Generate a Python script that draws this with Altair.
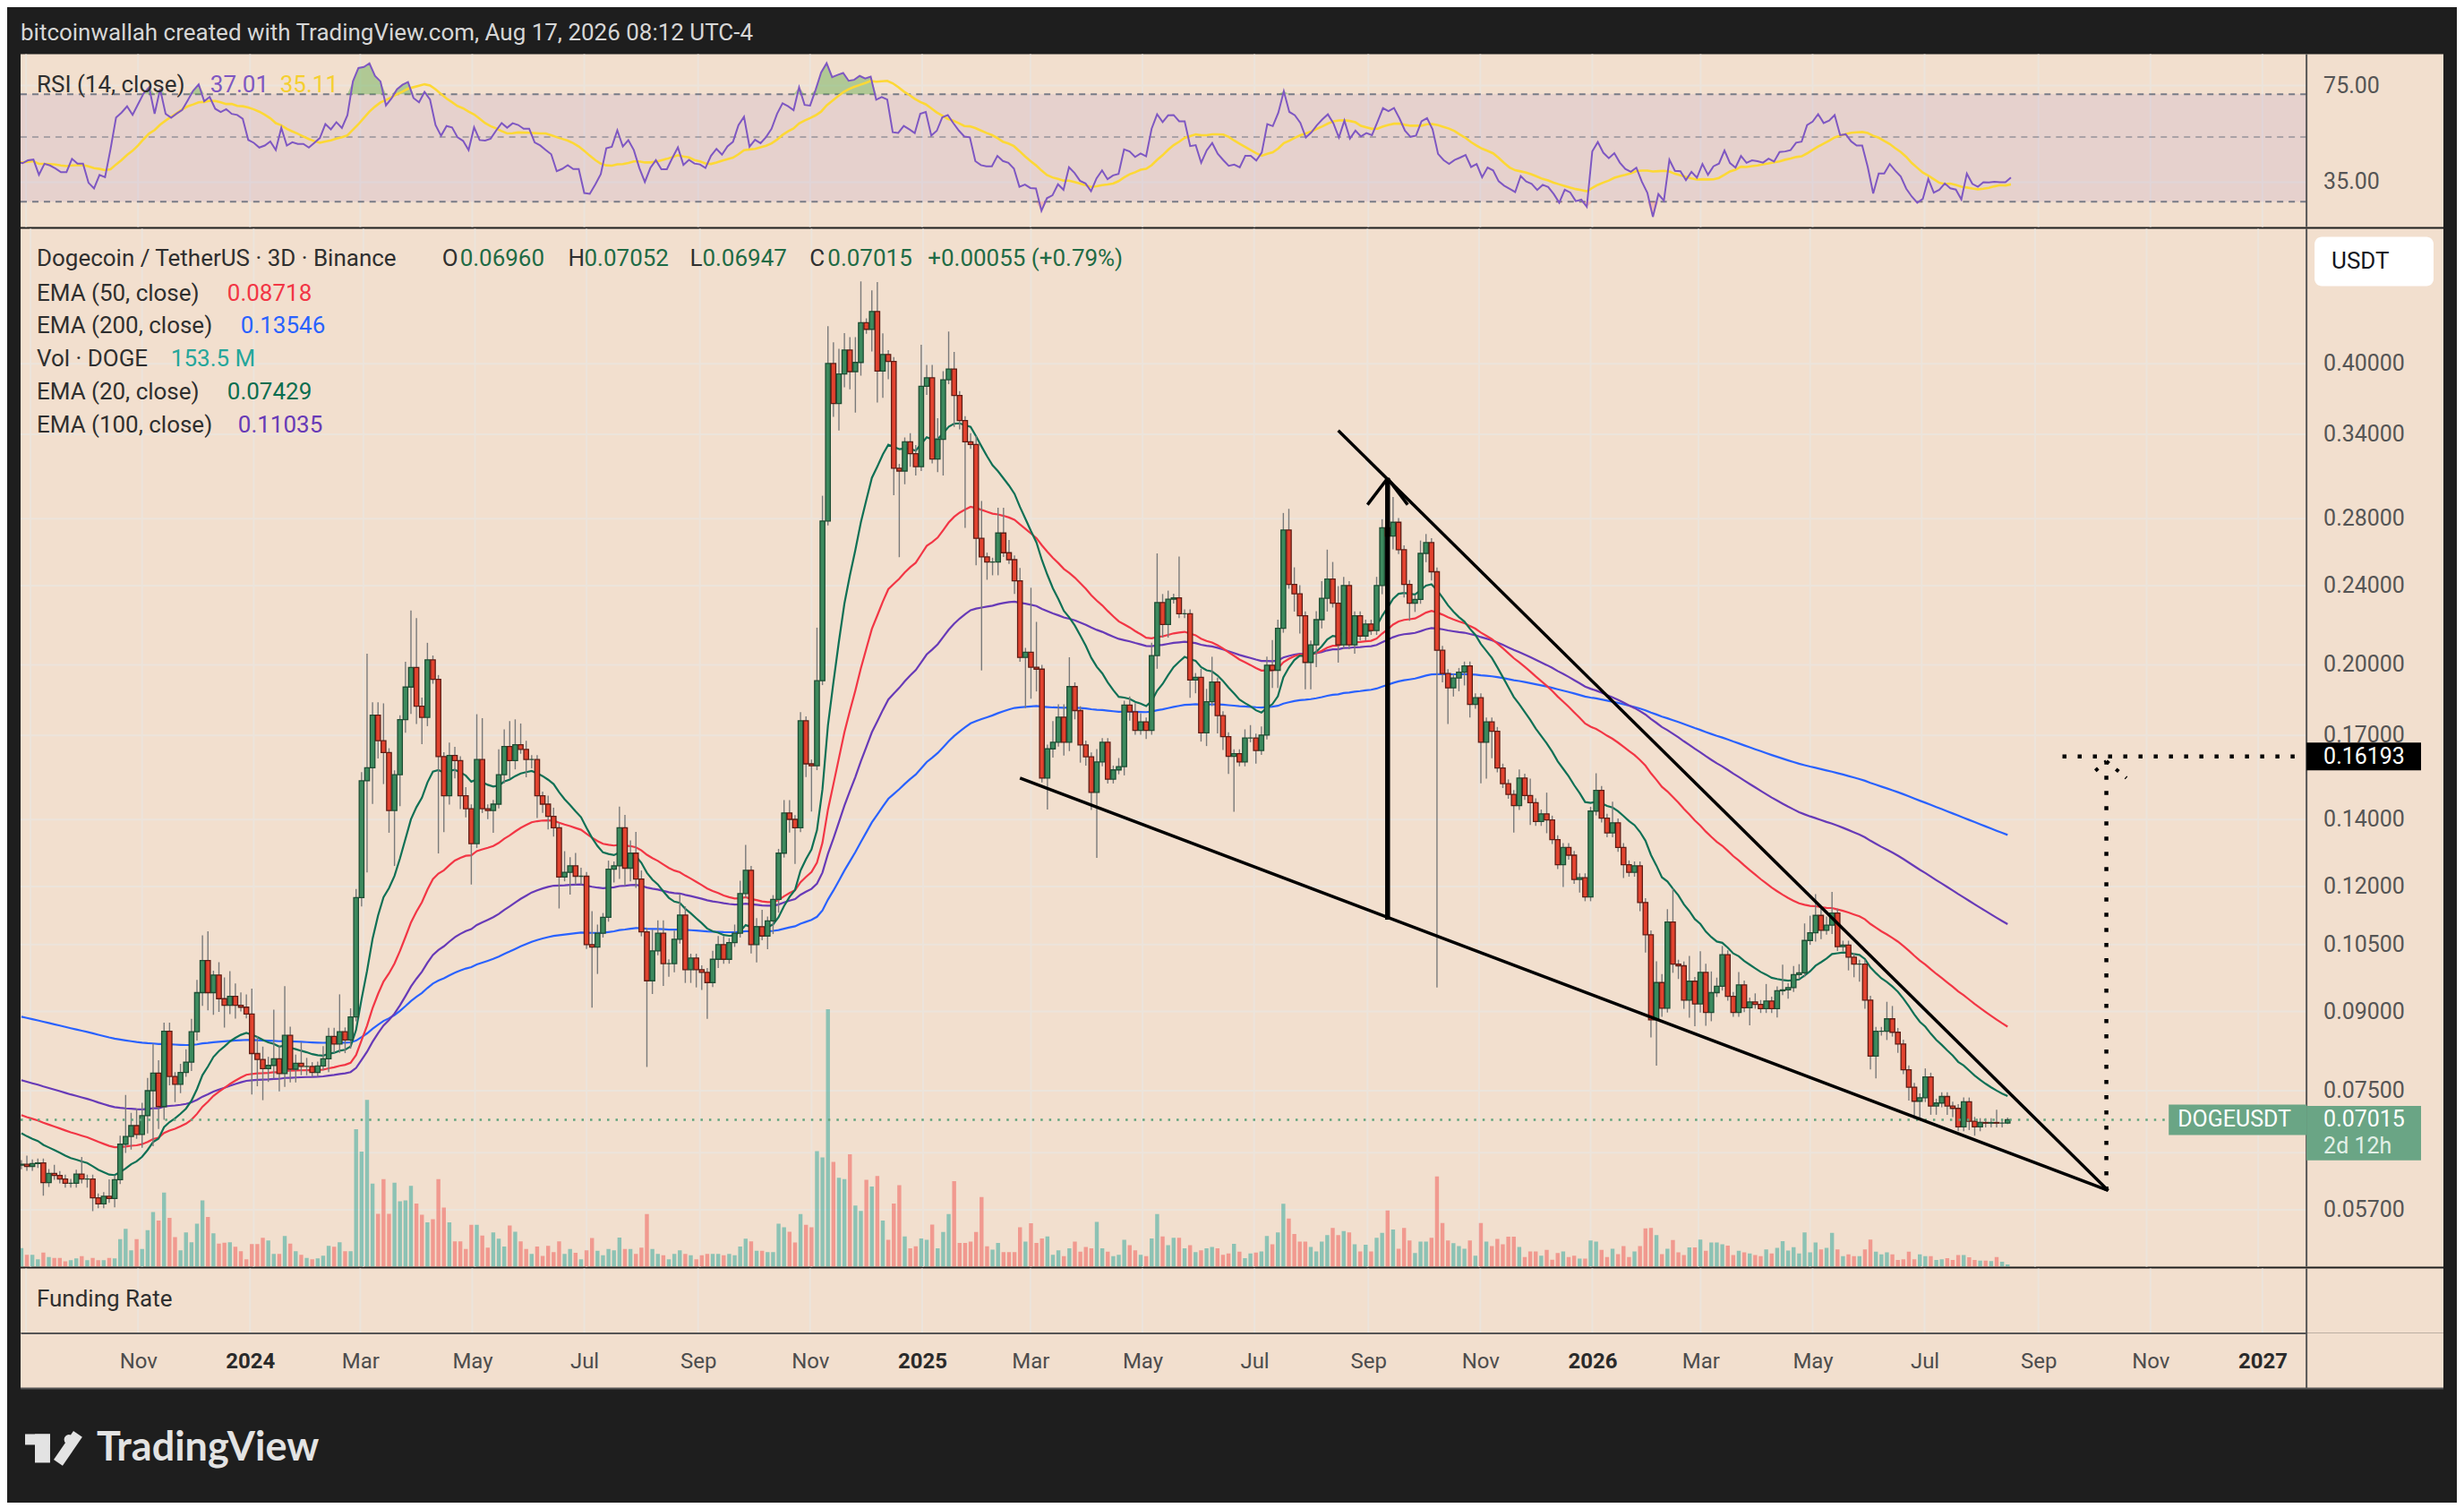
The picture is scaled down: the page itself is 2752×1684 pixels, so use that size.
import altair as alt
import pandas as pd
import numpy as np

# ---------------------------------------------------------------- data
first_open = 0.0632

closes = [
    0.0633, 0.0630, 0.0634, 0.0635, 0.0607, 0.0620, 0.0617, 0.0612, 0.0606, 0.0606,
    0.0619, 0.0612, 0.0612, 0.0586, 0.0578, 0.0588, 0.0585, 0.0611, 0.0663, 0.0675,
    0.0692, 0.0678, 0.0708, 0.0750, 0.0781, 0.0723, 0.0860, 0.0775, 0.0761, 0.0782,
    0.0801, 0.0859, 0.0940, 0.1012, 0.0940, 0.0979, 0.0927, 0.0913, 0.0932, 0.0913,
    0.0909, 0.0895, 0.0817, 0.0806, 0.0789, 0.0795, 0.0807, 0.0780, 0.0852, 0.0788,
    0.0799, 0.0793, 0.0793, 0.0782, 0.0794, 0.0807, 0.0850, 0.0835, 0.0859, 0.0843,
    0.0889, 0.1170, 0.1531, 0.1578, 0.1781, 0.1679, 0.1634, 0.1430, 0.1553, 0.1763,
    0.1900, 0.1988, 0.1818, 0.1772, 0.2023, 0.1934, 0.1619,
    0.1479, 0.1623, 0.1604, 0.1479, 0.1436, 0.1325, 0.1608, 0.1436, 0.1430, 0.1451,
    0.1553, 0.1657, 0.1604, 0.1664, 0.1646, 0.1608, 0.1608, 0.1479, 0.1451, 0.1411,
    0.1374, 0.1227, 0.1240, 0.1259, 0.1229, 0.1229, 0.1050, 0.1044, 0.1078, 0.1118,
    0.1249, 0.1259, 0.1374, 0.1252, 0.1296, 0.1221, 0.1081, 0.0966, 0.1035, 0.1078,
    0.1005, 0.1005, 0.1063, 0.1124, 0.0991, 0.1018, 0.0991, 0.0985, 0.0962, 0.1015,
    0.1050, 0.1015, 0.1055, 0.1078, 0.1181, 0.1246, 0.1050, 0.1094, 0.1071, 0.1109,
    0.1165, 0.1296, 0.1422, 0.1401, 0.1374, 0.1758, 0.1592, 0.1585, 0.1928, 0.2785,
    0.4003, 0.3650, 0.3907, 0.4129, 0.3929,
    0.4013, 0.4397, 0.4331, 0.4513, 0.3934, 0.4087, 0.4022, 0.3145, 0.3125, 0.3343,
    0.3253, 0.3156, 0.3799, 0.3873, 0.3213, 0.3362, 0.3856, 0.3953, 0.3719, 0.3510,
    0.3343, 0.3322, 0.2676, 0.2564, 0.2534, 0.2534, 0.2709, 0.2589, 0.2548, 0.2427,
    0.2034, 0.2059, 0.1989, 0.1980, 0.1541, 0.1648, 0.1673, 0.1773, 0.1673, 0.1902,
    0.1800, 0.1663, 0.1618, 0.1491, 0.1599, 0.1673, 0.1537, 0.1570, 0.1582, 0.1823,
    0.1795, 0.1720, 0.1754, 0.1720, 0.2043, 0.2308, 0.2195, 0.2326, 0.2333, 0.2250,
    0.2250, 0.1931, 0.1943, 0.1710, 0.1837, 0.1922, 0.1779, 0.1695, 0.1620, 0.1630,
    0.1599, 0.1690, 0.1690,
    0.1642, 0.1701, 0.1998, 0.1975, 0.2175, 0.2728, 0.2407, 0.2355, 0.2239, 0.2011,
    0.2094, 0.2219, 0.2331, 0.2437, 0.2305, 0.2094, 0.2401, 0.2094, 0.2239, 0.2137,
    0.2197, 0.2164, 0.2401, 0.2742, 0.2690, 0.2777, 0.2607, 0.2407, 0.2305, 0.2325,
    0.2585, 0.2650, 0.2478, 0.2068, 0.1960, 0.1897, 0.1940, 0.1966, 0.1995, 0.1826,
    0.1854, 0.1673, 0.1754, 0.1716, 0.1577, 0.1521, 0.1484, 0.1446, 0.1541, 0.1480,
    0.1456, 0.1394, 0.1419, 0.1399, 0.1337, 0.1262, 0.1313, 0.1290, 0.1220, 0.1225,
    0.1172, 0.1428, 0.1498, 0.1405, 0.1358, 0.1390, 0.1313, 0.1262, 0.1240, 0.1259,
    0.1157, 0.1074, 0.0883, 0.0962, 0.0907,
    0.1106, 0.1004, 0.1000, 0.0924, 0.0965, 0.0916, 0.0985, 0.0898, 0.0940, 0.0954,
    0.1026, 0.0932, 0.0898, 0.0957, 0.0908, 0.0920, 0.0915, 0.0906, 0.0922, 0.0906,
    0.0944, 0.0946, 0.0951, 0.0980, 0.0984, 0.1060, 0.1079, 0.1123, 0.1085, 0.1098,
    0.1129, 0.1045, 0.1049, 0.1020, 0.1004, 0.1004, 0.0924, 0.0812, 0.0860, 0.0860,
    0.0885, 0.0858, 0.0835, 0.0787, 0.0756, 0.0732, 0.0738, 0.0774, 0.0724, 0.0729,
    0.0740, 0.0724, 0.0720, 0.0690, 0.0731, 0.0699, 0.0690, 0.0697, 0.0696, 0.0697,
    0.0696, 0.0696, 0.07015,
]

wick_up_pct = [
    1, 2, 1, 1, 1, 1, 2, 1, 1, 1, 1, 4, 1, 1, 1, 1, 4, 1, 2, 10,
    3, 4, 3, 3, 7, 3, 2, 2, 1, 2, 3, 3, 3, 6, 7, 1, 3, 5, 6, 3,
    3, 3, 6, 4, 3, 2, 12, 3, 12, 2, 2, 5, 2, 1, 1, 3, 2, 2, 9, 1,
    2, 2, 2, 30, 3, 3, 9, 1, 1, 1, 6, 14, 12, 2, 4, 1, 1,
    1, 3, 2, 1, 2, 1, 11, 10, 1, 1, 6, 4, 6, 6, 5, 2, 1, 1, 1, 2,
    2, 1, 5, 2, 3, 2, 1, 8, 2, 1, 2, 1, 5, 3, 3, 5, 2, 1, 5, 3,
    3, 1, 2, 5, 2, 1, 1, 1, 1, 2, 2, 2, 1, 2, 3, 6, 1, 2, 4, 1,
    1, 1, 3, 3, 1, 2, 1, 1, 13, 6, 9, 5, 6, 4, 3,
    6, 10, 1, 5, 7, 5, 1, 1, 1, 1, 2, 2, 10, 3, 3, 5, 2, 9, 4, 1,
    1, 2, 2, 9, 1, 1, 6, 6, 3, 1, 3, 1, 16, 11, 1, 1, 5, 3, 3, 7,
    1, 1, 1, 1, 3, 1, 1, 1, 2, 1, 2, 2, 2, 1, 3, 12, 2, 2, 1, 10,
    1, 1, 1, 2, 3, 6, 1, 1, 1, 1, 1, 2, 3,
    1, 2, 2, 6, 2, 4, 5, 4, 2, 1, 1, 2, 4, 7, 4, 4, 2, 1, 1, 1,
    1, 1, 2, 2, 2, 6, 1, 1, 1, 1, 3, 2, 1, 1, 1, 1, 1, 1, 1, 1,
    1, 1, 1, 1, 1, 1, 1, 1, 2, 1, 4, 1, 1, 5, 1, 1, 1, 1, 1, 1,
    1, 1, 4, 1, 1, 5, 1, 1, 1, 1, 1, 1, 1, 5, 2,
    3, 8, 1, 1, 6, 1, 5, 2, 5, 2, 2, 1, 1, 3, 1, 1, 2, 1, 4, 1,
    1, 6, 1, 2, 2, 4, 4, 5, 2, 2, 5, 1, 1, 1, 1, 1, 1, 1, 1, 1,
    4, 3, 1, 1, 1, 1, 1, 2, 1, 1, 1, 1, 1, 1, 1, 1, 1, 1, 1, 1,
    3, 1, 0.5,
]

wick_dn_pct = [
    1, 1, 1, 1, 3, 1, 1, 1, 1, 1, 1, 1, 2, 3, 1, 1, 1, 2, 1, 2,
    3, 1, 3, 4, 12, 5, 3, 2, 4, 2, 1, 2, 2, 3, 4, 5, 3, 5, 2, 3,
    1, 1, 9, 6, 7, 3, 3, 4, 3, 3, 3, 2, 2, 1, 1, 1, 3, 2, 2, 3,
    2, 1, 2, 19, 8, 4, 7, 5, 12, 7, 3, 6, 4, 6, 2, 1, 20,
    8, 2, 4, 3, 2, 9, 1, 1, 2, 5, 1, 2, 4, 2, 1, 4, 2, 5, 2, 3,
    2, 7, 1, 5, 2, 2, 1, 13, 6, 1, 1, 3, 3, 4, 3, 2, 1, 18, 3, 1,
    5, 3, 2, 1, 3, 3, 4, 4, 8, 1, 2, 1, 1, 1, 1, 1, 2, 4, 1, 3,
    3, 3, 1, 3, 8, 1, 3, 10, 1, 1, 1, 3, 6, 3, 4,
    9, 3, 1, 5, 7, 6, 4, 6, 18, 3, 3, 2, 1, 2, 1, 3, 8, 1, 7, 2,
    18, 1, 6, 23, 4, 3, 3, 1, 1, 3, 1, 11, 7, 5, 1, 7, 2, 1, 3, 2,
    2, 4, 2, 4, 14, 1, 1, 1, 1, 2, 2, 1, 1, 2, 1, 3, 3, 3, 1, 1,
    1, 4, 3, 2, 3, 1, 4, 3, 4, 12, 1, 1, 1,
    3, 1, 1, 4, 4, 1, 1, 4, 4, 6, 6, 5, 2, 3, 1, 4, 1, 1, 2, 1,
    1, 1, 1, 2, 2, 3, 1, 3, 4, 2, 1, 2, 2, 54, 2, 8, 2, 3, 3, 3,
    1, 9, 8, 6, 1, 1, 1, 6, 1, 1, 5, 1, 1, 3, 1, 1, 5, 1, 1, 3,
    1, 1, 1, 1, 1, 1, 1, 3, 1, 1, 2, 4, 4, 10, 2,
    1, 2, 3, 2, 4, 5, 2, 3, 2, 1, 1, 1, 1, 1, 1, 4, 1, 1, 1, 1,
    2, 1, 2, 1, 1, 1, 1, 2, 2, 1, 2, 1, 1, 3, 3, 4, 2, 3, 5, 1,
    2, 1, 2, 1, 3, 4, 4, 1, 2, 2, 1, 2, 2, 1, 1, 2, 2, 1, 1, 1,
    1, 1, 0.2,
]

volume_bn = [
    1.26, 0.81, 0.81, 0.51, 0.96, 0.66, 0.60, 0.60, 0.36, 0.45,
    0.57, 0.72, 0.45, 0.60, 0.45, 0.45, 0.60, 0.57, 1.86, 2.55,
    1.11, 1.86, 1.20, 2.46, 3.69, 3.12, 5.00, 3.30, 2.00, 1.11,
    2.31, 1.65, 2.90, 4.47, 3.36, 2.25, 1.56, 1.62, 1.65, 1.35,
    1.05, 0.51, 1.53, 1.53, 1.95, 1.77, 0.87, 0.87, 2.07, 1.56,
    1.05, 0.81, 0.60, 0.51, 0.57, 0.75, 1.41, 1.35, 1.65, 1.05,
    1.05, 9.27, 7.77, 11.25, 5.61, 3.57, 5.91, 3.57, 5.67, 4.41,
    4.47, 5.46, 4.26, 3.51, 3.00, 3.21, 5.91,
    3.99, 3.00, 1.71, 1.71, 1.20, 2.83, 2.83, 2.10, 1.29, 2.31,
    1.89, 1.37, 2.79, 2.36, 1.71, 1.20, 0.86, 1.37, 0.73, 1.41,
    0.99, 1.71, 0.86, 1.20, 0.94, 0.51, 1.11, 1.93, 1.07, 0.77,
    1.20, 1.11, 1.97, 1.20, 1.20, 0.86, 1.29, 3.56, 1.20, 0.86,
    0.77, 0.51, 0.86, 1.11, 0.86, 0.77, 0.51, 0.77, 0.86, 0.86,
    0.86, 0.77, 0.86, 0.77, 1.37, 1.89, 1.71, 1.07, 1.07, 0.99,
    0.99, 2.91, 2.66, 2.36, 1.63, 3.56, 2.83, 2.66, 7.80, 7.37,
    17.36, 7.07, 6.00, 5.91, 7.59,
    4.13, 3.77, 5.86, 5.41, 6.12, 3.11, 1.82, 4.26, 5.50, 2.04,
    1.24, 1.38, 1.91, 1.82, 2.84, 1.24, 2.35, 3.55, 5.77, 1.60,
    1.60, 1.69, 2.35, 4.70, 1.38, 1.15, 1.60, 0.98, 0.98, 0.98,
    2.66, 1.69, 2.93, 1.60, 1.91, 2.04, 0.80, 1.11, 0.71, 1.24,
    1.69, 1.02, 1.33, 1.24, 3.02, 1.24, 1.02, 0.71, 0.80, 1.82,
    1.46, 1.11, 0.80, 0.71, 1.91, 3.55, 2.04, 1.46, 1.95, 1.95,
    1.24, 1.46, 0.98, 1.11, 1.24, 1.33, 1.24, 0.80, 0.89, 1.55,
    1.02, 0.58, 0.89,
    0.96, 1.03, 2.07, 1.51, 2.32, 4.24, 3.25, 2.21, 1.70, 1.70,
    1.33, 1.03, 1.70, 2.14, 2.62, 2.14, 2.40, 2.32, 1.51, 1.03,
    1.48, 1.03, 1.96, 2.29, 3.80, 2.51, 1.22, 2.62, 1.77, 0.92,
    1.70, 1.70, 1.96, 6.09, 2.95, 1.77, 1.59, 1.40, 1.22, 1.77,
    0.74, 2.95, 1.70, 1.40, 1.88, 1.51, 2.03, 2.03, 1.33, 0.66,
    1.03, 1.03, 0.74, 1.14, 0.48, 0.92, 1.03, 0.66, 0.74, 0.55,
    0.55, 1.77, 1.70, 1.14, 0.66, 1.22, 0.85, 1.40, 0.66, 1.03,
    1.40, 2.58, 2.62, 2.14, 0.85,
    1.22, 1.80, 0.97, 0.79, 1.30, 1.30, 1.83, 1.07, 1.63, 1.63,
    1.52, 1.42, 0.79, 1.07, 0.97, 0.89, 0.79, 0.71, 1.17, 0.89,
    1.27, 1.73, 1.09, 1.32, 0.89, 2.31, 0.97, 1.63, 1.17, 1.27,
    2.29, 1.17, 0.71, 0.84, 0.71, 0.71, 1.17, 1.83, 1.02, 0.84,
    0.97, 0.84, 0.46, 0.51, 1.02, 0.51, 0.84, 0.71, 0.71, 0.46,
    0.51, 0.58, 0.46, 0.79, 0.79, 0.64, 0.46, 0.41, 0.41, 0.38,
    0.66, 0.33, 0.1535,
]

last_candle_date = "2026-08-17"
ema_seed = {20: 0.0685, 50: 0.0712, 100: 0.0771, 200: 0.0892}
rsi_seed_gain = 0.0009
rsi_seed_loss = 0.0013

price_ticks = [0.057, 0.065, 0.075, 0.09, 0.105, 0.12, 0.14, 0.17, 0.20, 0.24, 0.28, 0.34, 0.40]
price_labels = [0.057, 0.075, 0.09, 0.105, 0.12, 0.14, 0.17, 0.20, 0.24, 0.28, 0.34, 0.40]
rsi_ticks = [35, 75]
grid_months = [(2023, 9), (2023, 11), (2024, 1), (2024, 3), (2024, 5), (2024, 7), (2024, 9),
               (2024, 11), (2025, 1), (2025, 3), (2025, 5), (2025, 7), (2025, 9), (2025, 11),
               (2026, 1), (2026, 3), (2026, 5), (2026, 7), (2026, 9), (2026, 11), (2027, 1)]

wedge_upper = [("2025-08-16", 0.3431), ("2026-10-11", 0.0596)]
wedge_lower = [("2025-02-23", 0.1541), ("2026-10-11", 0.0596)]
pole = [("2025-09-12", 0.1112), ("2025-09-12", 0.3073)]
pole_head = [("2025-09-01", 0.2892), ("2025-09-12", 0.3073), ("2025-09-23", 0.2892)]
target_price = 0.16193
target_h = [("2026-09-16", 0.16193), ("2027-01-25", 0.16193)]
target_v = [("2026-10-10", 0.0596), ("2026-10-10", 0.1600)]
target_head = [("2026-10-04", 0.1567), ("2026-10-10", 0.1602), ("2026-10-21", 0.1541)]
last_price = 0.07015

# ---------------------------------------------------------------- derived table
n = min(len(closes), len(wick_up_pct), len(wick_dn_pct), len(volume_bn))
cl = np.array(closes[:n], dtype=float)
op = np.array([first_open] + closes[:n - 1], dtype=float)
hi = np.maximum(op, cl) * (1 + np.array(wick_up_pct[:n], dtype=float) / 100)
lo = np.minimum(op, cl) * (1 - np.array(wick_dn_pct[:n], dtype=float) / 100)
dates = pd.date_range(end=last_candle_date, periods=n, freq="3D")


def ema(vals, period, seed):
    k = 2.0 / (period + 1)
    e = seed
    out = []
    for v in vals:
        e = v * k + e * (1 - k)
        out.append(e)
    return out


ag, al, prev = rsi_seed_gain, rsi_seed_loss, first_open
rsi = []
for c in cl:
    ch = c - prev
    ag = (ag * 13 + max(ch, 0)) / 14
    al = (al * 13 + max(-ch, 0)) / 14
    rsi.append(100 - 100 / (1 + ag / al))
    prev = c

df = pd.DataFrame({
    "date": [d.strftime("%Y-%m-%dT00:00:00Z") for d in dates],
    "open": op, "close": cl, "high": hi, "low": lo,
    "vol": volume_bn[:n],
    "dir": np.where(cl >= op, "up", "down"),
    "ema20": ema(cl, 20, ema_seed[20]),
    "ema50": ema(cl, 50, ema_seed[50]),
    "ema100": ema(cl, 100, ema_seed[100]),
    "ema200": ema(cl, 200, ema_seed[200]),
    "rsi": rsi,
})
df["rsima"] = df["rsi"].rolling(14, min_periods=1).mean()
df["ob"] = np.maximum(df["rsi"], 70)
df["ob0"] = 70.0
df["os"] = np.minimum(df["rsi"], 30)
df["os0"] = 30.0

# ---------------------------------------------------------------- styling
W = 2555
AX = 153
H_RSI, H_MAIN, H_FUND = 193, 1160, 72
BG = "#f2dfce"
DARK = "#1e1e1e"
GRID = "#ece4db"
FONT = "Roboto"
TXT = "#2f2f2f"
ONE = pd.DataFrame({"k": [0]})


def iso(d):
    return d + "T00:00:00Z"


xscale = alt.Scale(type="utc", domain=[alt.DateTime(year=2023, month=8, date=29, utc=True),
                                        alt.DateTime(year=2027, month=1, date=25, utc=True)])
pscale = alt.Scale(type="log", domain=[0.05, 0.546], nice=False)
rscale = alt.Scale(type="log", domain=[24.6, 96], nice=False)
X = alt.X("date:T", scale=xscale, axis=None)

grid_df = pd.DataFrame({"date": [f"{y}-{m:02d}-01T00:00:00Z" for y, m in grid_months]})


def label(text, x, y, color, size=26, weight="normal", align="left", font=FONT):
    return alt.Chart(ONE).mark_text(text=text, align=align, baseline="middle", fontSize=size,
                                    fontWeight=weight, color=color, font=font).encode(
        x=alt.value(x), y=alt.value(y))


def prect(x1, x2, y1, y2, color, **kw):
    return alt.Chart(ONE).mark_rect(color=color, **kw).encode(
        x=alt.value(x1), x2=alt.value(x2), y=alt.value(y1), y2=alt.value(y2))


def prule(x1, x2, y1, y2, color, width, **kw):
    return alt.Chart(ONE).mark_rule(color=color, strokeWidth=width, **kw).encode(
        x=alt.value(x1), x2=alt.value(x2), y=alt.value(y1), y2=alt.value(y2))


vgrid = alt.Chart(grid_df).mark_rule(color=GRID, strokeWidth=2).encode(x=X)

# ---------------------------------------------------------------- RSI panel
rbase = alt.Chart(df)
RY = lambda f: alt.Y(f, scale=rscale, axis=None)
rsi_layers = [
    prect(W, W + AX, 0, H_RSI, BG),
    vgrid,
    alt.Chart(pd.DataFrame({"v": rsi_ticks})).mark_rule(color=GRID, strokeWidth=2).encode(y=RY("v:Q")),
    alt.Chart(pd.DataFrame({"lo": [30], "hi": [70]})).mark_rect(color="#7e57c2", opacity=0.1).encode(
        x=alt.value(0), x2=alt.value(W), y=RY("lo:Q"), y2="hi:Q"),
    alt.Chart(pd.DataFrame({"v": [70, 30]})).mark_rule(color="#787b86", strokeWidth=2, strokeDash=[7, 6]).encode(
        y=RY("v:Q"), x=alt.value(0), x2=alt.value(W)),
    alt.Chart(pd.DataFrame({"v": [50]})).mark_rule(color="#787b86", opacity=0.55, strokeWidth=2, strokeDash=[7, 6]).encode(
        y=RY("v:Q"), x=alt.value(0), x2=alt.value(W)),
    rbase.mark_area(color="#5fae4e", opacity=0.45, clip=True).encode(x=X, y=RY("ob:Q"), y2="ob0:Q"),
    rbase.mark_area(color="#ef5350", opacity=0.25, clip=True).encode(x=X, y=RY("os:Q"), y2="os0:Q"),
    rbase.mark_line(color="#fdd835", strokeWidth=2.6, clip=True).encode(x=X, y=RY("rsima:Q")),
    rbase.mark_line(color="#7e57c2", strokeWidth=2, clip=True).encode(x=X, y=RY("rsi:Q")),
    alt.Chart(pd.DataFrame({"v": rsi_ticks, "t": [f"{v:.2f}" for v in rsi_ticks]})).mark_text(
        align="left", baseline="middle", fontSize=25, font=FONT, color="#555555").encode(
        y=RY("v:Q"), x=alt.value(W + 19), text="t:N"),
    alt.Chart(ONE).mark_rule(color="#555555", strokeWidth=2).encode(x=alt.value(W)),
    label("RSI (14, close)", 18, 34, TXT),
    label("37.01", 212, 34, "#7e57c2"),
    label("35.11", 290, 34, "#f5cf2f"),
    label("bitcoinwallah created with TradingView.com, Aug 17, 2026 08:12 UTC-4", 0, -24, "#d6d6d6"),
    prule(-14, W + AX + 14, -51, -51, DARK, 1),
]
rsi_panel = alt.layer(*rsi_layers).properties(width=W, height=H_RSI)

# ---------------------------------------------------------------- main panel
PY = lambda f: alt.Y(f, scale=pscale, axis=None)
base = alt.Chart(df)

grid_layer = alt.layer(
    vgrid,
    alt.Chart(pd.DataFrame({"p": price_ticks})).mark_rule(color=GRID, strokeWidth=2).encode(y=PY("p:Q")),
)

vol_layer = base.mark_bar(size=4.4, opacity=0.5, clip=True).encode(
    x=X,
    y=alt.Y("vol:Q", scale=alt.Scale(domain=[0, 70]), axis=None),
    color=alt.Color("dir:N", scale=alt.Scale(domain=["up", "down"], range=["#26a69a", "#ef5350"]), legend=None),
)


def seg_df(points):
    rows = []
    for a, b in zip(points[:-1], points[1:]):
        rows.append({"x1": iso(a[0]), "y1": a[1], "x2": iso(b[0]), "y2": b[1]})
    return pd.DataFrame(rows)


def seg_chart(points, width, dash=None, color="#000000"):
    kw = {"strokeDash": dash} if dash else {}
    return alt.Chart(seg_df(points)).mark_rule(color=color, strokeWidth=width, **kw).encode(
        x=alt.X("x1:T", scale=xscale, axis=None), x2="x2:T", y=PY("y1:Q"), y2="y2:Q")


ticks_df = pd.DataFrame({"p": price_labels, "t": [f"{p:.5f}" for p in price_labels]})

price_layers = [
    prect(W, W + AX, 0, H_MAIN, BG),
    base.mark_line(color="#2962ff", strokeWidth=2.2, clip=True).encode(x=X, y=PY("ema200:Q")),
    base.mark_line(color="#673ab7", strokeWidth=2.2, clip=True).encode(x=X, y=PY("ema100:Q")),
    base.mark_line(color="#f23645", strokeWidth=2.2, clip=True).encode(x=X, y=PY("ema50:Q")),
    base.mark_line(color="#0f7055", strokeWidth=2.2, clip=True).encode(x=X, y=PY("ema20:Q")),
    base.mark_rule(color="#7a7a7a", strokeWidth=1.4, clip=True).encode(x=X, y=PY("low:Q"), y2="high:Q"),
    base.mark_bar(size=5.3, strokeWidth=1.3, clip=True).encode(
        x=X, y=PY("open:Q"), y2="close:Q",
        fill=alt.Fill("dir:N", scale=alt.Scale(domain=["up", "down"], range=["#3c8a5e", "#e2432f"]), legend=None),
        stroke=alt.Stroke("dir:N", scale=alt.Scale(domain=["up", "down"], range=["#1d4d33", "#5e1c14"]), legend=None),
    ),
    alt.Chart(pd.DataFrame({"p": [last_price]})).mark_rule(color="#5fa47c", strokeWidth=2.5, strokeDash=[2.5, 7]).encode(
        y=PY("p:Q"), x=alt.value(0), x2=alt.value(W)),
    seg_chart(wedge_upper, 3.5),
    seg_chart(wedge_lower, 3.5),
    seg_chart(pole, 5.5),
    seg_chart(pole_head, 3.5),
    seg_chart(target_h, 4.5, dash=[4.5, 12.5]),
    seg_chart(target_v, 4.5, dash=[4.5, 12.5]),
    seg_chart(target_head, 4, dash=[4, 10]),
    alt.Chart(ticks_df).mark_text(align="left", baseline="middle", fontSize=25, font=FONT, color="#555555").encode(
        y=PY("p:Q"), x=alt.value(W + 19), text="t:N"),
    alt.Chart(ONE).mark_rule(color="#555555", strokeWidth=2).encode(x=alt.value(W)),
    # price boxes
    alt.Chart(pd.DataFrame({"p": [target_price]})).mark_rule(color="#000000", strokeWidth=31).encode(
        y=PY("p:Q"), x=alt.value(W), x2=alt.value(W + 128)),
    alt.Chart(pd.DataFrame({"p": [target_price], "t": [f"{target_price:.5f}"]})).mark_text(
        align="left", baseline="middle", fontSize=25, font=FONT, color="#ffffff").encode(
        y=PY("p:Q"), x=alt.value(W + 19), text="t:N"),
    alt.Chart(pd.DataFrame({"p": [last_price]})).mark_rule(color="#6aa585", strokeWidth=34).encode(
        y=PY("p:Q"), x=alt.value(W - 154), x2=alt.value(W)),
    alt.Chart(pd.DataFrame({"p": [last_price]})).mark_rule(color="#6aa585", strokeWidth=61, yOffset=15).encode(
        y=PY("p:Q"), x=alt.value(W), x2=alt.value(W + 128)),
    alt.Chart(pd.DataFrame({"p": [last_price], "t": ["DOGEUSDT"]})).mark_text(
        align="left", baseline="middle", fontSize=25, font=FONT, color="#ffffff").encode(
        y=PY("p:Q"), x=alt.value(W - 144), text="t:N"),
    alt.Chart(pd.DataFrame({"p": [last_price], "t": [f"{last_price:.5f}"]})).mark_text(
        align="left", baseline="middle", fontSize=25, font=FONT, color="#ffffff").encode(
        y=PY("p:Q"), x=alt.value(W + 19), text="t:N"),
    alt.Chart(pd.DataFrame({"p": [last_price], "t": ["2d 12h"]})).mark_text(
        align="left", baseline="middle", fontSize=25, font=FONT, color="#e2f0e7", dy=30).encode(
        y=PY("p:Q"), x=alt.value(W + 19), text="t:N"),
    prect(W + 9, W + 142, 9, 64, "#ffffff", cornerRadius=8),
    label("USDT", W + 28, 37, "#131722"),
    # legend
    label("Dogecoin / TetherUS · 3D · Binance", 18, 34, TXT),
    label("O", 471, 34, TXT), label("0.06960", 491, 34, "#1f6b45"),
    label("H", 612, 34, TXT), label("0.07052", 630, 34, "#1f6b45"),
    label("L", 748, 34, TXT), label("0.06947", 762, 34, "#1f6b45"),
    label("C", 882, 34, TXT), label("0.07015", 902, 34, "#1f6b45"),
    label("+0.00055 (+0.79%)", 1014, 34, "#1f6b45"),
    label("EMA (50, close)", 18, 73, TXT), label("0.08718", 231, 73, "#f23645"),
    label("EMA (200, close)", 18, 109, TXT), label("0.13546", 246, 109, "#2962ff"),
    label("Vol · DOGE", 18, 146, TXT), label("153.5 M", 168, 146, "#26a69a"),
    label("EMA (20, close)", 18, 183, TXT), label("0.07429", 231, 183, "#0b6e50"),
    label("EMA (100, close)", 18, 220, TXT), label("0.11035", 243, 220, "#673ab7"),
]

main_panel = alt.layer(grid_layer, vol_layer, alt.layer(*price_layers)).resolve_scale(
    y="independent").properties(width=W, height=H_MAIN)

# ---------------------------------------------------------------- funding + time axis
axis_values = [alt.DateTime(year=y, month=m, date=1, utc=True) for y, m in grid_months[1:]]
x_axis = alt.Axis(
    values=axis_values,
    labelExpr="utcFormat(datum.value, utcmonth(datum.value) == 0 ? '%Y' : '%b')",
    labelFont=FONT, labelFontSize=24, labelPadding=20, labelOverlap=False,
    labelColor={"condition": {"test": "utcmonth(datum.value) == 0", "value": "#2a2a2a"}, "value": "#4d4d4d"},
    labelFontWeight={"condition": {"test": "utcmonth(datum.value) == 0", "value": "bold"}, "value": "normal"},
    tickSize=0, domain=True, domainColor="#555555", domainWidth=2, grid=False, title=None, zindex=1,
)
vgrid_axis = alt.Chart(grid_df).mark_rule(color=GRID, strokeWidth=2).encode(
    x=alt.X("date:T", scale=xscale, axis=x_axis))

fund_layers = [
    prect(0, W + AX, H_FUND, H_FUND + 62, BG),
    prect(W, W + AX, 0, H_FUND, BG),
    vgrid_axis,
    label("Funding Rate", 18, 34, TXT),
    prule(W, W, 0, H_FUND + 62, "#555555", 2),
    prule(0, W + AX, H_FUND + 62, H_FUND + 62, "#555555", 2),
    # TradingView wordmark
    prect(5, 33, 185, 197, "#e3e3e3"),
    prect(16, 33, 185, 217, "#e3e3e3"),
    alt.Chart(ONE).mark_circle(color="#e3e3e3", opacity=1, size=115).encode(x=alt.value(54), y=alt.value(191)),
    prule(64, 42, 185, 217, "#e3e3e3", 12, strokeCap="butt"),
    label("TradingView", 85, 201, "#e3e3e3", size=45, weight="bold", font="Lato"),
    prule(-14, W + AX + 14, 260, 260, DARK, 1),
]
fund_panel = alt.layer(*fund_layers).properties(width=W, height=H_FUND)

chart = alt.vconcat(rsi_panel, main_panel, fund_panel, spacing=2, bounds="flush").properties(
    background=DARK, padding=0
).configure_view(fill=BG, stroke="transparent", strokeWidth=0)

chart.save("out.html", embed_options={"renderer": "svg", "actions": False})
